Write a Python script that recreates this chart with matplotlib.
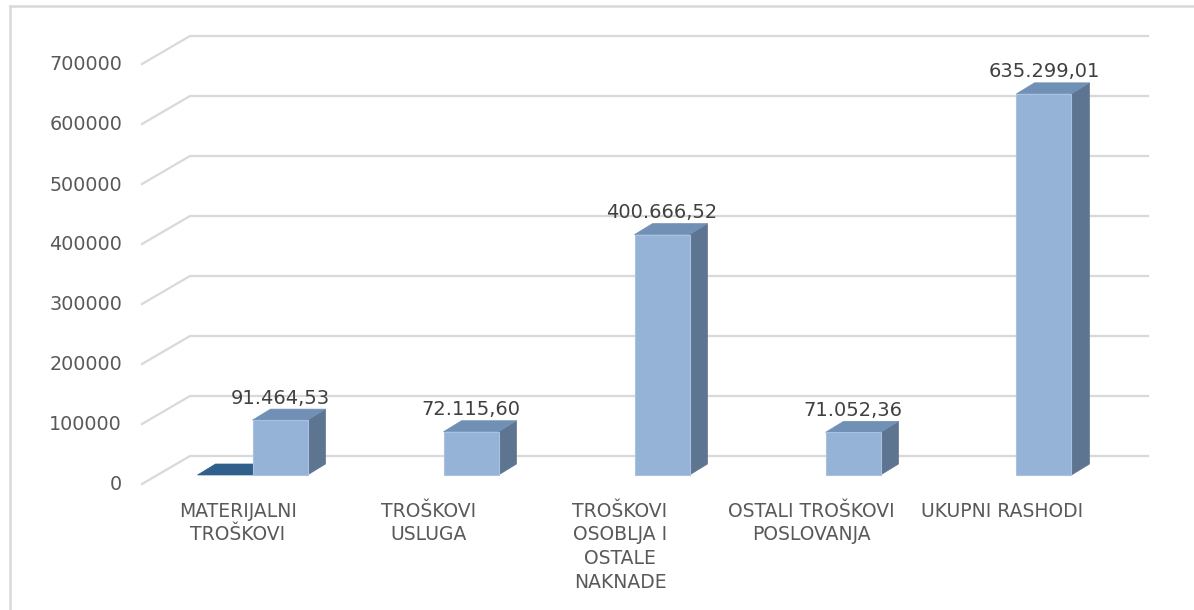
import matplotlib
matplotlib.use("Agg")
import matplotlib.pyplot as plt
from matplotlib.patches import Polygon, Rectangle
from matplotlib.lines import Line2D

# Data
categories = ["MATERIJALNI\nTROŠKOVI", "TROŠKOVI\nUSLUGA", "TROŠKOVI\nOSOBLJA I\nOSTALE\nNAKNADE",
              "OSTALI TROŠKOVI\nPOSLOVANJA", "UKUPNI RASHODI"]
series_1 = [0, None, None, None, None]
series_2 = [91464.53, 72115.60, 400666.52, 71052.36, 635299.01]
value_labels = ["91.464,53", "72.115,60", "400.666,52", "71.052,36", "635.299,01"]
y_ticks = [0, 100000, 200000, 300000, 400000, 500000, 600000, 700000]

# Colours
FACE = "#95B3D7"
TOP = "#7190B6"
SIDE = "#5E7591"
DARK = "#2F5F8A"
GRID = "#D9D9D9"
TEXT = "#595959"

# Pixel scale of the fake 3D layout
W, H, DPI = 1194, 610, 100
PX_CAT = 191.0        # pixels per category
PX_VAL = 0.0006       # pixels per unit of value
X0, Y0 = 280.0, 475.0  # pixel position of category 0 / value 0 (from top)


def dx(px):
    return px / PX_CAT


def dy(px):
    return px / PX_VAL


fig = plt.figure(figsize=(W / DPI, H / DPI), dpi=DPI)
ax = fig.add_axes([0, 0, 1, 1])
ax.set_xlim(-X0 / PX_CAT, (W - X0) / PX_CAT)
ax.set_ylim(-(H - Y0) / PX_VAL, Y0 / PX_VAL)
ax.axis("off")

# Outer chart border (left and top edges visible)
x_left, x_right = ax.get_xlim()
y_bot, y_top = ax.get_ylim()
ax.add_line(Line2D([x_left + dx(9.5), x_left + dx(9.5)], [y_bot, y_top - dy(6)],
                   color=GRID, lw=1.8, zorder=1))
ax.add_line(Line2D([x_left + dx(9.5), x_right], [y_top - dy(6), y_top - dy(6)],
                   color=GRID, lw=1.8, zorder=1))

# Gridlines with the 3D floor-to-wall bend
front_x = dx(142 - X0)
back_x = dx(190 - X0)
right_x = dx(1148 - X0)
for v in y_ticks:
    ax.add_line(Line2D([front_x, back_x, right_x],
                       [v - dy(9), v + dy(19), v + dy(19)],
                       color=GRID, lw=1.6, zorder=1, solid_joinstyle="miter"))
    ax.text(dx(122 - X0), v - dy(10), str(v), ha="right", va="center",
            fontsize=13.8, color=TEXT)

bw = dx(55)
ddx, ddy = dx(18), dy(11)

# Series 1 (only a flat zero bar shows)
for i, v in enumerate(series_1):
    if v is None:
        continue
    x = i - bw
    ax.add_patch(Polygon([(x - bw / 2, v), (x + bw / 2, v),
                          (x + bw / 2 + ddx, v + ddy), (x - bw / 2 + ddx, v + ddy)],
                         closed=True, facecolor=DARK, edgecolor=DARK, lw=0.5, zorder=2))

# Series 2 bars: front face, side and top
for i, v in enumerate(series_2):
    x1, x2 = i - bw / 2, i + bw / 2
    ax.add_patch(Polygon([(x2, 0), (x2 + ddx, ddy), (x2 + ddx, v + ddy), (x2, v)],
                         closed=True, facecolor=SIDE, edgecolor=SIDE, lw=0.5, zorder=3))
    ax.add_patch(Polygon([(x1, v), (x2, v), (x2 + ddx, v + ddy), (x1 + ddx, v + ddy)],
                         closed=True, facecolor=TOP, edgecolor=TOP, lw=0.5, zorder=3))
    ax.add_patch(Rectangle((x1, 0), bw, v, facecolor=FACE, edgecolor="#A9C2E0",
                           lw=0.8, zorder=4))
    ax.text(i, v + ddy + dy(11), value_labels[i], ha="center", va="center",
            fontsize=14, color="#404040", zorder=5)

# Category labels
for i, lab in enumerate(categories):
    ax.text(i - dx(42), -dy(27), lab, ha="center", va="top", multialignment="center",
            fontsize=13.5, color=TEXT, linespacing=1.3)

fig.savefig("out.png", dpi=DPI, facecolor="white")
